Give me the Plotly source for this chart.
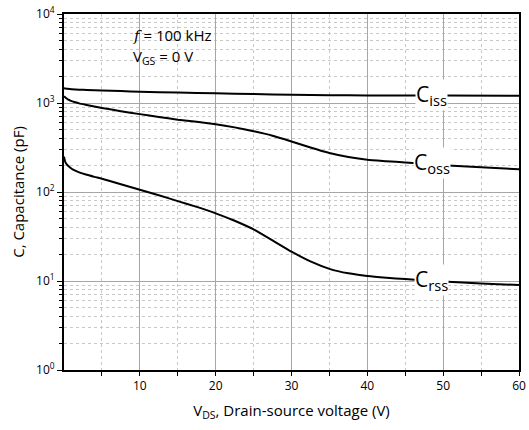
import plotly.graph_objects as go
import numpy as np

# Data
v_iss = [0, 0.5, 1, 2, 3, 5, 7.5, 10, 15, 20, 25, 30, 35, 40, 50, 60]
c_iss = [1470, 1445, 1430, 1412, 1400, 1380, 1360, 1340, 1310, 1285, 1260, 1240, 1225, 1217, 1212, 1208]

v_oss = [0, 0.15, 0.3, 0.5, 0.7, 1, 1.5, 2, 3, 4, 5, 7.5, 10, 12.5, 15, 17.5, 20, 22.5, 25, 27.5, 30, 32.5, 35, 37.5, 40, 42.5, 45, 50, 55, 60]
c_oss = [1190, 1160, 1130, 1100, 1080, 1050, 1020, 990, 950, 912, 880, 810, 750, 697, 650, 614, 577, 532, 482, 429, 370, 316, 274, 247, 230, 222, 215, 200, 190, 180]

v_rss = [0, 0.15, 0.4, 0.8, 1.2, 2, 3, 4, 5, 7.5, 10, 12.5, 15, 17.5, 20, 22.5, 25, 27.5, 30, 32.5, 35, 37.5, 40, 42.5, 45, 47.5, 50, 55, 60]
c_rss = [250, 220, 203, 188, 178, 166, 156, 148, 141, 122, 106, 92, 79, 68, 57.6, 47.5, 38, 28.6, 21.4, 16.6, 13.7, 12.2, 11.4, 10.9, 10.5, 10.2, 9.9, 9.4, 9.0]

curve_labels = ["iss", "oss", "rss"]
label_v = 48.5

x_ticks = [10, 20, 30, 40, 50, 60]
y_ticks = [1, 10, 100, 1000, 10000]
y_ticktext = ["10<sup>0</sup>", "10<sup>1</sup>", "10<sup>2</sup>", "10<sup>3</sup>", "10<sup>4</sup>"]
y_minor = [m * 10 ** e for e in range(0, 4) for m in range(2, 10)]
x_minor = [5, 15, 25, 35, 45, 55]

FONT = "Open Sans, Noto Sans, sans-serif"

fig = go.Figure()
series = [(v_iss, c_iss), (v_oss, c_oss), (v_rss, c_rss)]
for (vx, cy) in series:
    fig.add_trace(go.Scatter(x=vx, y=cy, mode="lines",
                             line=dict(color="black", width=2, shape="spline", smoothing=0.5),
                             showlegend=False, hoverinfo="skip"))

for (vx, cy), lab in zip(series, curve_labels):
    yv = float(np.interp(label_v, vx, cy))
    fig.add_annotation(x=label_v, y=np.log10(yv), xref="x", yref="y",
                       text=f"C<sub>{lab}</sub>", showarrow=False,
                       font=dict(family=FONT, size=21, color="black"),
                       bgcolor="white", borderpad=0, xanchor="center", yanchor="middle",
                       yshift=1)

fig.add_annotation(x=8.8, y=3.767, xref="x", yref="y", xanchor="left", yanchor="middle",
                   text="<i><span style='font-family:DejaVu Serif, serif'>f</span></i> = 100 kHz",
                   showarrow=False, font=dict(family=FONT, size=15, color="black"))
fig.add_annotation(x=8.8, y=3.52, xref="x", yref="y", xanchor="left", yanchor="middle",
                   text="V<sub>GS</sub> = 0 V",
                   showarrow=False, font=dict(family=FONT, size=15, color="black"))

fig.update_layout(
    width=529, height=430,
    margin=dict(l=64, r=10, t=14, b=60, autoexpand=False),
    plot_bgcolor="white", paper_bgcolor="white",
    font=dict(family=FONT, size=12, color="black"),
)
fig.update_xaxes(
    range=[0, 60], tickvals=x_ticks, ticks="outside", ticklen=4, tickcolor="black",
    showline=True, linecolor="black", linewidth=2, mirror=True, automargin=False,
    showgrid=True, gridcolor="#a6a6a6", gridwidth=1,
    minor=dict(tickvals=x_minor, ticks="outside", ticklen=4, tickcolor="black",
               showgrid=True, gridcolor="#c8c8c8", griddash="dot", gridwidth=1),
    title=dict(text="V<sub>DS</sub>, Drain-source voltage (V)", font=dict(size=15), standoff=12),
    tickfont=dict(size=12), zeroline=False,
)
fig.update_yaxes(
    type="log", range=[0, 4], tickvals=y_ticks, ticktext=y_ticktext,
    ticks="outside", ticklen=5, tickcolor="black",
    showline=True, linecolor="black", linewidth=2, mirror=True, automargin=False,
    showgrid=True, gridcolor="#a6a6a6", gridwidth=1,
    minor=dict(tickvals=y_minor, ticks="outside", ticklen=3, tickcolor="black",
               showgrid=True, gridcolor="#c8c8c8", griddash="dot", gridwidth=1),
    title=dict(text="C, Capacitance (pF)", font=dict(size=15), standoff=8),
    tickfont=dict(size=12), zeroline=False,
)

fig.write_html("out.html", config={"displayModeBar": False},
               post_script="document.body.style.margin='0';")
